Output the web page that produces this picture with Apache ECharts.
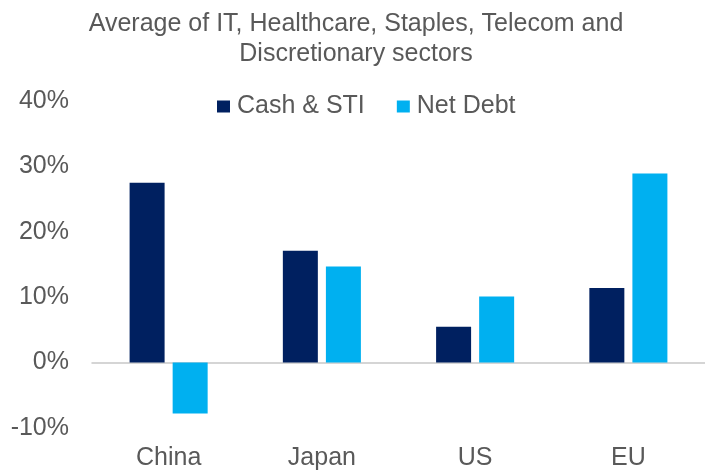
<!DOCTYPE html>
<html>
<head>
<meta charset="utf-8">
<script src="https://cdn.jsdelivr.net/npm/echarts@6/dist/echarts.min.js"></script>
<style>
  html, body { margin: 0; padding: 0; background: #fff; }
  #main { width: 705px; height: 472px; }
</style>
</head>
<body>
<div id="main"></div>
<script>
var chart = echarts.init(document.getElementById('main'));

var regions = ['China', 'Japan', 'US', 'EU'];
var cashSTI = [27.5, 17.1, 5.5, 11.4];
var netDebt = [-7.8, 14.7, 10.1, 28.9];

var textColor = '#595959';
var font = 'Liberation Sans';

var option = {
  animation: false,
  title: {
    text: 'Average of IT, Healthcare, Staples, Telecom and\nDiscretionary sectors',
    left: 356,
    textAlign: 'center',
    top: 9,
    padding: 0,
    textStyle: {
      color: textColor,
      fontFamily: font,
      fontSize: 25,
      fontWeight: 'normal',
      lineHeight: 30
    }
  },
  legend: {
    data: ['Cash & STI', 'Net Debt'],
    left: 217,
    top: 94,
    padding: 0,
    icon: 'rect',
    itemWidth: 13,
    itemHeight: 12,
    itemGap: 32,
    textStyle: { color: textColor, fontFamily: font, fontSize: 25, padding: [0, 0, 0, 2] }
  },
  grid: {
    left: 92,
    right: 0,
    top: 101,
    bottom: 44,
    containLabel: false
  },
  xAxis: [{
    type: 'category',
    data: regions,
    axisLine: { show: false, onZero: false },
    axisTick: { show: false },
    axisLabel: { color: textColor, fontFamily: font, fontSize: 25, margin: 18 }
  }, {
    type: 'category',
    data: regions,
    position: 'bottom',
    axisLine: { show: true, onZero: true, lineStyle: { color: '#c8c8c8', width: 1.5 } },
    axisTick: { show: false },
    axisLabel: { show: false }
  }],
  yAxis: {
    type: 'value',
    min: -10,
    max: 40,
    interval: 10,
    splitLine: { show: false },
    axisLine: { show: false },
    axisTick: { show: false },
    axisLabel: {
      color: textColor,
      fontFamily: font,
      fontSize: 25,
      margin: 23,
      formatter: function (v) { return v + '%'; }
    }
  },
  series: [{
    name: 'Cash & STI',
    type: 'bar',
    data: cashSTI,
    barWidth: 35,
    barGap: '23%',
    itemStyle: { color: '#002060' }
  }, {
    name: 'Net Debt',
    type: 'bar',
    data: netDebt,
    barWidth: 35,
    barGap: '23%',
    itemStyle: { color: '#00b0f0' }
  }]
};

chart.setOption(option);
</script>
</body>
</html>
